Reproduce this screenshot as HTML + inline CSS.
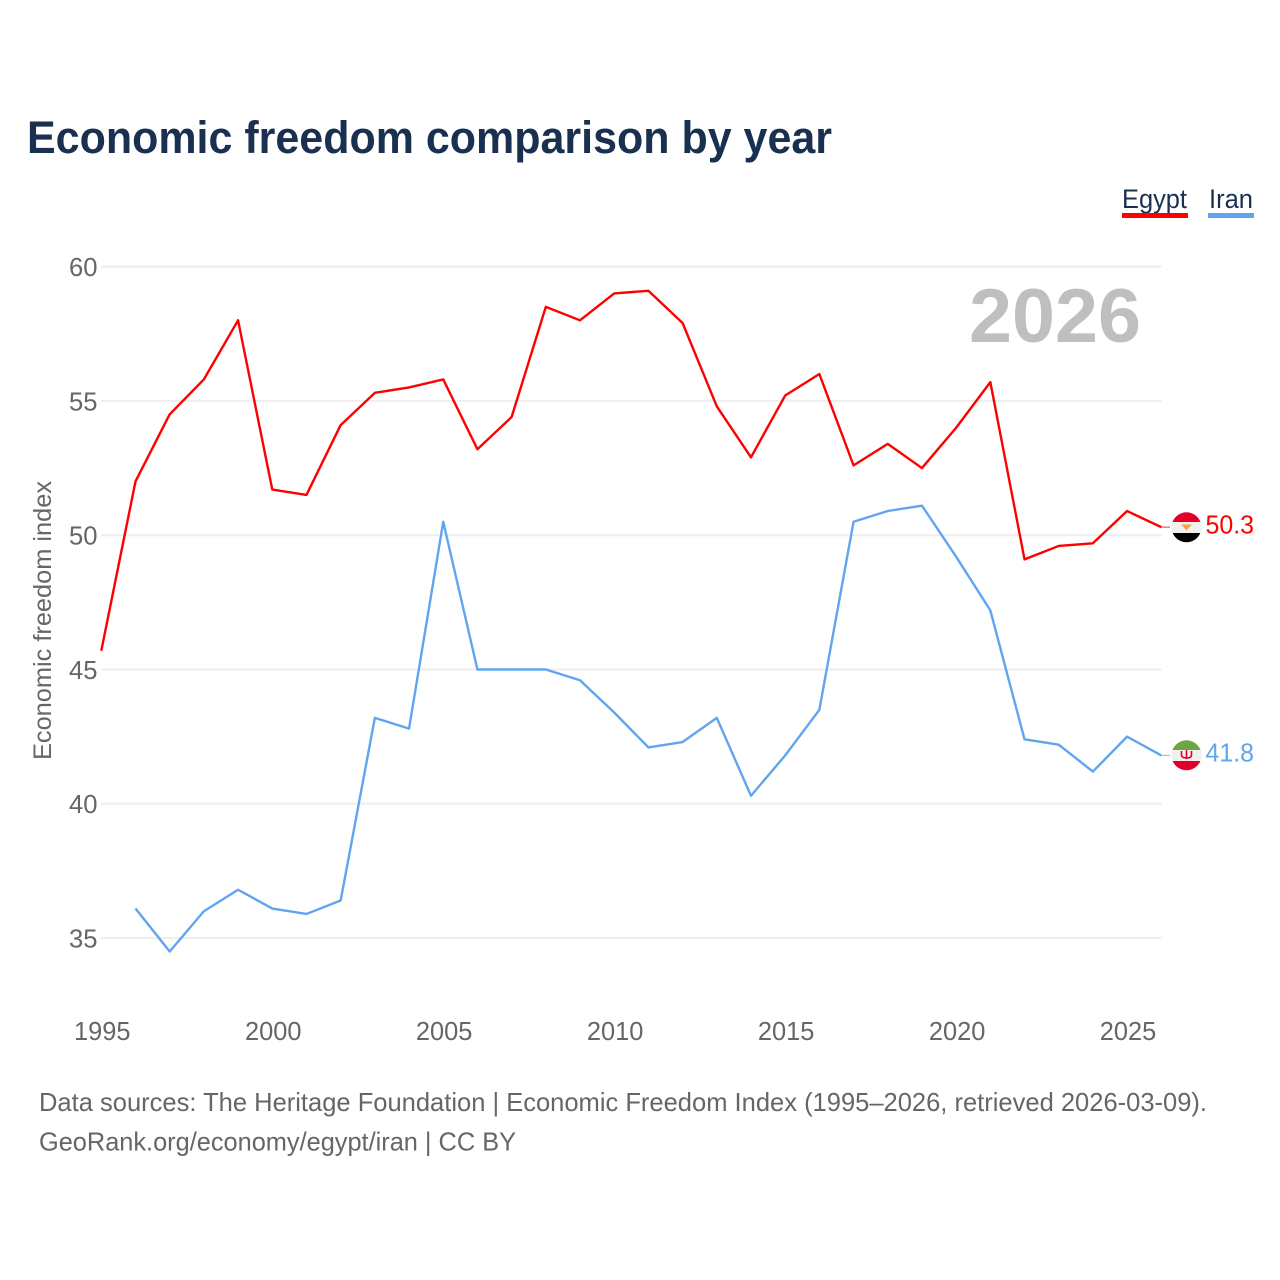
<!DOCTYPE html>
<html lang="en">
<head>
<meta charset="utf-8">
<title>Economic freedom comparison by year</title>
<style>
html,body{margin:0;padding:0;background:#fff;width:1280px;height:1280px;overflow:hidden}
svg{display:block}
text{font-family:"Liberation Sans",sans-serif}
</style>
</head>
<body>
<svg id="chart" width="1280" height="1280" viewBox="0 0 1280 1280" xmlns="http://www.w3.org/2000/svg">
<defs>
<clipPath id="egypt-clip"><circle cx="1186.500" cy="527.300" r="15"/></clipPath>
<clipPath id="iran-clip"><circle cx="1186.500" cy="755.300" r="15"/></clipPath>
</defs>
<rect width="1280" height="1280" fill="#fff"/>
<text x="27" y="153" font-size="45" font-weight="700" fill="#1a3050" textLength="805" lengthAdjust="spacingAndGlyphs">Economic freedom comparison by year</text>
<g id="grid"></g>
<g id="yticks"></g>
<g id="xticks"></g>
<text transform="translate(51,760) rotate(-90)" font-size="25" fill="#666" textLength="279" lengthAdjust="spacingAndGlyphs">Economic freedom index</text>
<text x="969" y="342" font-size="76" font-weight="700" fill="#bfbfbf" textLength="172" lengthAdjust="spacingAndGlyphs">2026</text>
<g>
<g>
<text x="1122" y="208" font-size="27" fill="#1a3050" textLength="65" lengthAdjust="spacingAndGlyphs">Egypt</text>
<rect x="1122" y="213" width="66" height="5" fill="#ff0000"/>
</g>
<g>
<text x="1209" y="208" font-size="27" fill="#1a3050" textLength="44" lengthAdjust="spacingAndGlyphs">Iran</text>
<rect x="1208" y="213" width="46" height="5" fill="#60a5ee"/>
</g>
</g>
<g id="series"></g>
<g clip-path="url(#egypt-clip)">
<rect x="1171" y="512" width="31" height="10" fill="#e0002a"/>
<rect x="1171" y="522" width="31" height="11" fill="#f0f0f0"/>
<rect x="1171" y="533" width="31" height="10" fill="#000"/>
<path d="M1181 524.500 h11 l-3 3 l-2.500 3 l-2.500 -3 z" fill="#ffa030"/>
</g>
<g clip-path="url(#iran-clip)">
<rect x="1171" y="740" width="31" height="10" fill="#6da544"/>
<rect x="1171" y="750" width="31" height="11" fill="#f0f0f0"/>
<rect x="1171" y="761" width="31" height="10" fill="#e0002a"/>
<path d="M1181.500 751 v4 q0 3 5 3 q5 0 5 -3 v-4 M1186.500 750 v9" fill="none" stroke="#e0002a" stroke-width="1.600"/>
</g>
<text x="1205.500" y="533.500" font-size="26" fill="#ff0000" textLength="48.500" lengthAdjust="spacingAndGlyphs">50.3</text>
<text x="1205.500" y="761.500" font-size="26" fill="#60a5ee" textLength="48.500" lengthAdjust="spacingAndGlyphs">41.8</text>
<text x="39" y="1111" font-size="26" fill="#666" textLength="1168" lengthAdjust="spacingAndGlyphs">Data sources: The Heritage Foundation | Economic Freedom Index (1995–2026, retrieved 2026-03-09).</text>
<text x="39" y="1150.500" font-size="26" fill="#666" textLength="477" lengthAdjust="spacingAndGlyphs">GeoRank.org/economy/egypt/iran | CC BY</text>
</svg>
<script>
const years = [1995,1996,1997,1998,1999,2000,2001,2002,2003,2004,2005,2006,2007,2008,2009,2010,2011,2012,2013,2014,2015,2016,2017,2018,2019,2020,2021,2022,2023,2024,2025,2026];
const egyptValues = [45.7,52.0,54.5,55.8,58.0,51.7,51.5,54.1,55.3,55.5,55.8,53.2,54.4,58.5,58.0,59.0,59.1,57.9,54.8,52.9,55.2,56.0,52.6,53.4,52.5,54.0,55.7,49.1,49.6,49.7,50.9,50.3];
const iranValues = [null,36.1,34.5,36.0,36.8,36.1,35.9,36.4,43.2,42.8,50.5,45.0,45.0,45.0,44.6,43.4,42.1,42.3,43.2,40.3,41.8,43.5,50.5,50.9,51.1,49.2,47.2,42.4,42.2,41.2,42.5,41.8];
const yTickValues = [35,40,45,50,55,60];
const xTickValues = [1995,2000,2005,2010,2015,2020,2025];

const NS = 'http://www.w3.org/2000/svg';
const xScale = function (year) { return 101.3 + (year - 1995) * 1060 / 31; };
const yScale = function (value) { return 266.6 + (60 - value) * 671.5 / 25; };

function make(tag, parent, attrs, content) {
  const el = document.createElementNS(NS, tag);
  Object.keys(attrs).forEach(function (key) { el.setAttribute(key, attrs[key]); });
  if (content !== undefined) { el.textContent = content; }
  parent.appendChild(el);
  return el;
}

const gridGroup = document.getElementById('grid');
const yGroup = document.getElementById('yticks');
const xGroup = document.getElementById('xticks');
const seriesGroup = document.getElementById('series');

yTickValues.forEach(function (value) {
  const line = make('line', gridGroup, { x1: 101, x2: 1161.5, y1: yScale(value), y2: yScale(value), stroke: '#eeeeee', 'stroke-width': 2 });
  
  
  const label = make('text', yGroup, { x: 69, y: yScale(value) + 9.4, 'font-size': 26, fill: '#666', textLength: 28.5, lengthAdjust: 'spacingAndGlyphs' }, String(value));
  
  
});

xTickValues.forEach(function (year) {
  const label = make('text', xGroup, { x: xScale(year) - 27.3, y: 1040, 'font-size': 26, fill: '#666', textLength: 56.5, lengthAdjust: 'spacingAndGlyphs' }, String(year));
  
  
});

function linePath(values) {
  let d = '';
  values.forEach(function (value, i) {
    if (value === null) { return; }
    d += (d ? 'L' : 'M') + xScale(years[i]).toFixed(2) + ' ' + yScale(value).toFixed(2);
  });
  return d;
}

const egyptLine = make('path', seriesGroup, { d: linePath(egyptValues), fill: 'none', stroke: '#ff0000', 'stroke-width': 2.4, 'stroke-linejoin': 'round' });


const iranLine = make('path', seriesGroup, { d: linePath(iranValues), fill: 'none', stroke: '#60a5ee', 'stroke-width': 2.4, 'stroke-linejoin': 'round' });



const egyptLast = yScale(egyptValues[egyptValues.length - 1]);
const iranLast = yScale(iranValues[iranValues.length - 1]);
const egyptLeader = make('path', seriesGroup, { d: 'M1161.3 ' + egyptLast + 'L1170 ' + egyptLast, stroke: '#ff5050', 'stroke-width': 1.2, fill: 'none' });


const iranLeader = make('path', seriesGroup, { d: 'M1161.3 ' + iranLast + 'L1170 ' + iranLast, stroke: '#90c0f2', 'stroke-width': 1.2, fill: 'none' });


</script>
</body>
</html>
